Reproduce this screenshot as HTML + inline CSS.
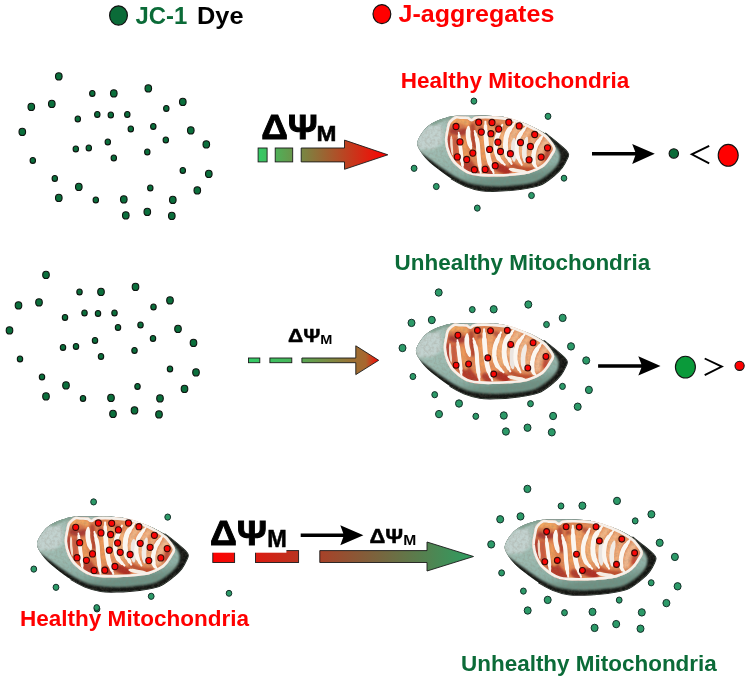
<!DOCTYPE html>
<html><head><meta charset="utf-8"><title>JC-1</title>
<style>
html,body{margin:0;padding:0;background:#fff;}
body{width:750px;height:683px;overflow:hidden;}
svg{display:block;}
text{font-family:"Liberation Sans",sans-serif;font-weight:bold;opacity:0.999;}
.dye ellipse{fill:#0b6f3c;stroke:#0d130f;stroke-width:1.1;}
.rd ellipse{fill:#fb0505;stroke:#3a0b07;stroke-width:1.1;}
.gd ellipse{fill:#2c9a68;stroke:#14302a;stroke-width:1;}
</style></head><body>
<svg width="750" height="683" viewBox="0 0 750 683">
<defs>
<filter id="b1" x="-5%" y="-10%" width="110%" height="120%"><feGaussianBlur stdDeviation="0.7"/></filter>
<filter id="b2" x="-5%" y="-10%" width="110%" height="120%"><feGaussianBlur stdDeviation="1.3"/></filter>
<filter id="b3" x="-50%" y="-50%" width="200%" height="200%"><feGaussianBlur stdDeviation="1.8"/></filter>
<filter id="b4" x="-20%" y="-20%" width="140%" height="140%"><feGaussianBlur stdDeviation="1.2"/></filter>
<filter id="b5" x="-20%" y="-20%" width="140%" height="140%"><feGaussianBlur stdDeviation="0.45"/></filter>
<filter id="nz" x="0" y="0" width="100%" height="100%"><feTurbulence type="fractalNoise" baseFrequency="0.38" numOctaves="2" seed="3" result="t"/><feColorMatrix type="matrix" values="0 0 0 0 0.25  0 0 0 0 0.2  0 0 0 0 0.15  0 0 0 1.6 -0.62"/></filter>
<linearGradient id="gb" x1="0" y1="0" x2="0.25" y2="1">
<stop offset="0" stop-color="#a9c2ba"/><stop offset="0.6" stop-color="#9dbbb1"/><stop offset="0.86" stop-color="#8cafa5"/><stop offset="1" stop-color="#6e9285"/></linearGradient>
<linearGradient id="go" x1="0" y1="0" x2="1" y2="0.3">
<stop offset="0" stop-color="#cf6a45"/><stop offset="0.35" stop-color="#e2824f"/><stop offset="0.7" stop-color="#e99560"/><stop offset="1" stop-color="#e08a5a"/></linearGradient>
<clipPath id="oc"><path d="M416.0,350.0C416.4,346.8 419.1,342.5 421.3,339.4C423.6,336.3 426.2,333.7 429.5,331.5C432.8,329.3 437.5,327.6 441.3,326.3C445.1,325.0 448.2,324.0 452.3,323.5C456.4,323.0 461.4,323.3 466.0,323.2C470.6,323.1 475.0,322.8 479.8,322.9C484.6,323.0 490.5,323.2 495.0,323.6C499.5,324.1 501.6,324.1 507.0,325.6C512.4,327.1 521.2,329.8 527.4,332.4C533.6,335.0 539.4,338.1 544.1,341.0C548.8,343.9 552.2,347.2 555.6,350.0C559.0,352.8 562.5,355.7 564.4,357.7C566.3,359.7 566.8,360.4 567.0,361.8C567.2,363.2 566.8,364.0 565.7,366.2C564.7,368.4 562.9,372.2 560.7,375.1C558.5,378.0 556.2,380.4 552.5,383.3C548.8,386.2 544.2,390.4 538.5,392.6C532.8,394.9 525.4,395.8 518.3,396.8C511.2,397.8 502.1,398.3 495.7,398.5C489.3,398.7 485.1,398.8 479.8,398.0C474.5,397.2 468.8,395.4 463.9,393.5C459.0,391.6 454.8,389.1 450.3,386.3C445.8,383.5 440.8,379.7 436.7,376.6C432.6,373.5 428.9,370.5 426.0,367.5C423.1,364.5 420.7,361.4 419.0,358.5C417.3,355.6 415.6,353.2 416.0,350.0Z"/></clipPath>
<clipPath id="ic"><path d="M453.7,323.8C451.6,324.7 448.9,327.1 447.5,329.0C446.1,330.9 446.0,332.3 445.4,335.5C444.8,338.7 443.4,343.9 443.6,348.3C443.9,352.7 445.0,357.8 446.9,361.9C448.8,366.0 450.9,369.8 454.9,373.2C458.9,376.6 463.9,380.8 470.7,382.6C477.5,384.4 487.0,384.2 495.7,384.1C504.4,384.0 516.5,382.9 522.9,382.0C529.3,381.1 531.4,379.7 534.3,378.6C537.2,377.5 538.5,376.7 540.4,375.5C542.3,374.3 543.9,373.1 545.6,371.2C547.3,369.3 549.2,366.5 550.6,364.0C552.0,361.5 554.5,358.9 554.2,356.0C553.9,353.1 550.4,349.0 548.6,346.6C546.8,344.2 546.3,343.6 543.5,341.6C540.7,339.6 535.8,336.6 531.9,334.6C528.0,332.6 523.6,330.8 520.0,329.4C516.4,328.0 513.8,326.9 510.0,326.0C506.2,325.1 501.3,324.5 497.0,324.1C492.7,323.7 488.1,323.5 484.3,323.5C480.5,323.5 476.3,323.6 474.0,324.1C471.7,324.6 471.5,326.4 470.3,326.4C469.1,326.4 468.7,324.7 467.0,324.3C465.3,323.9 462.2,324.0 460.0,323.9C457.8,323.8 455.8,322.9 453.7,323.8Z"/></clipPath>
<linearGradient id="ga1" gradientUnits="userSpaceOnUse" x1="258" y1="0" x2="388" y2="0">
<stop offset="0" stop-color="#33cc66"/><stop offset="1" stop-color="#ff0000"/></linearGradient>
<linearGradient id="ga2" gradientUnits="userSpaceOnUse" x1="248" y1="0" x2="379" y2="0">
<stop offset="0" stop-color="#33cc66"/><stop offset="0.3" stop-color="#45b85c"/><stop offset="0.8" stop-color="#9c7034"/><stop offset="0.9" stop-color="#a8662e"/><stop offset="1" stop-color="#ff0000"/></linearGradient>
<linearGradient id="ga3" gradientUnits="userSpaceOnUse" x1="212" y1="0" x2="474" y2="0">
<stop offset="0" stop-color="#ff0000"/><stop offset="1" stop-color="#2c9f62"/></linearGradient>
<g id="mito"><path d="M544.1,341.0C546.0,342.5 552.2,347.2 555.6,350.0C559.0,352.8 562.5,355.7 564.4,357.7C566.3,359.7 566.8,360.4 567.0,361.8C567.2,363.2 566.8,364.0 565.7,366.2C564.7,368.4 562.9,372.2 560.7,375.1C558.5,378.0 556.2,380.4 552.5,383.3C548.8,386.2 544.2,390.4 538.5,392.6C532.8,394.9 525.4,395.8 518.3,396.8C511.2,397.8 502.1,398.3 495.7,398.5C489.3,398.7 485.1,398.8 479.8,398.0C474.5,397.2 468.8,395.4 463.9,393.5C459.0,391.6 452.6,387.5 450.3,386.3" fill="none" stroke="#1a1c19" stroke-width="1.6" stroke-linecap="round" filter="url(#b1)"/><path d="M416.0,350.0C416.4,346.8 419.1,342.5 421.3,339.4C423.6,336.3 426.2,333.7 429.5,331.5C432.8,329.3 437.5,327.6 441.3,326.3C445.1,325.0 448.2,324.0 452.3,323.5C456.4,323.0 461.4,323.3 466.0,323.2C470.6,323.1 475.0,322.8 479.8,322.9C484.6,323.0 490.5,323.2 495.0,323.6C499.5,324.1 501.6,324.1 507.0,325.6C512.4,327.1 521.2,329.8 527.4,332.4C533.6,335.0 539.4,338.1 544.1,341.0C548.8,343.9 552.2,347.2 555.6,350.0C559.0,352.8 562.5,355.7 564.4,357.7C566.3,359.7 566.8,360.4 567.0,361.8C567.2,363.2 566.8,364.0 565.7,366.2C564.7,368.4 562.9,372.2 560.7,375.1C558.5,378.0 556.2,380.4 552.5,383.3C548.8,386.2 544.2,390.4 538.5,392.6C532.8,394.9 525.4,395.8 518.3,396.8C511.2,397.8 502.1,398.3 495.7,398.5C489.3,398.7 485.1,398.8 479.8,398.0C474.5,397.2 468.8,395.4 463.9,393.5C459.0,391.6 454.8,389.1 450.3,386.3C445.8,383.5 440.8,379.7 436.7,376.6C432.6,373.5 428.9,370.5 426.0,367.5C423.1,364.5 420.7,361.4 419.0,358.5C417.3,355.6 415.6,353.2 416.0,350.0Z" fill="#9dbdb0"/><g clip-path="url(#oc)"><rect x="400" y="310" width="180" height="100" fill="#141613"/><path d="M412.0,348.3C411.8,344.9 412.8,340.4 415.0,337.0C417.2,333.6 421.3,330.4 425.0,328.0C428.7,325.6 433.0,323.9 437.0,322.5C441.0,321.1 444.2,320.1 449.0,319.5C453.8,318.9 460.9,319.2 466.0,319.0C471.1,318.8 475.0,318.4 479.8,318.5C484.6,318.6 490.3,319.0 495.0,319.5C499.7,320.0 502.3,320.0 508.0,321.5C513.7,323.0 523.1,325.1 529.0,328.5C534.9,331.9 539.3,337.6 543.3,341.6C547.3,345.6 550.5,349.1 553.0,352.3C555.5,355.5 557.5,357.9 558.3,360.7C559.1,363.5 558.6,366.4 557.8,369.0C556.9,371.6 555.3,373.6 553.2,376.0C551.1,378.4 548.2,381.1 545.0,383.3C541.8,385.6 538.2,388.0 534.0,389.5C529.8,391.0 526.4,391.4 520.0,392.2C513.6,392.9 503.5,394.0 495.7,394.0C487.9,394.0 479.4,393.3 473.0,392.0C466.6,390.7 462.4,388.7 457.1,386.0C451.8,383.3 446.2,379.3 441.3,376.0C436.4,372.7 431.8,369.3 427.7,366.2C423.6,363.1 419.1,360.3 416.5,357.3C413.9,354.3 412.2,351.7 412.0,348.3Z" fill="url(#gb)" filter="url(#b2)"/><path d="M414.5,350.5L419.5,340.4L428.3,333.2L439.5,331.6L442.5,341.4L441,351.1L433,356.5L418.5,357.5Z" fill="#c2d2cf" filter="url(#b3)"/><path d="M430,331.5L441.3,326.6L452.3,324" fill="none" stroke="#7d9f8e" stroke-width="3" filter="url(#b4)"/></g><path d="M453.7,323.8C451.6,324.7 448.9,327.1 447.5,329.0C446.1,330.9 446.0,332.3 445.4,335.5C444.8,338.7 443.4,343.9 443.6,348.3C443.9,352.7 445.0,357.8 446.9,361.9C448.8,366.0 450.9,369.8 454.9,373.2C458.9,376.6 463.9,380.8 470.7,382.6C477.5,384.4 487.0,384.2 495.7,384.1C504.4,384.0 516.5,382.9 522.9,382.0C529.3,381.1 531.4,379.7 534.3,378.6C537.2,377.5 538.5,376.7 540.4,375.5C542.3,374.3 543.9,373.1 545.6,371.2C547.3,369.3 549.2,366.5 550.6,364.0C552.0,361.5 554.5,358.9 554.2,356.0C553.9,353.1 550.4,349.0 548.6,346.6C546.8,344.2 546.3,343.6 543.5,341.6C540.7,339.6 535.8,336.6 531.9,334.6C528.0,332.6 523.6,330.8 520.0,329.4C516.4,328.0 513.8,326.9 510.0,326.0C506.2,325.1 501.3,324.5 497.0,324.1C492.7,323.7 488.1,323.5 484.3,323.5C480.5,323.5 476.3,323.6 474.0,324.1C471.7,324.6 471.5,326.4 470.3,326.4C469.1,326.4 468.7,324.7 467.0,324.3C465.3,323.9 462.2,324.0 460.0,323.9C457.8,323.8 455.8,322.9 453.7,323.8Z" fill="#f4ede6"/><g clip-path="url(#ic)"><path d="M453.7,323.8C451.6,324.7 448.9,327.1 447.5,329.0C446.1,330.9 446.0,332.3 445.4,335.5C444.8,338.7 443.4,343.9 443.6,348.3C443.9,352.7 445.0,357.8 446.9,361.9C448.8,366.0 450.9,369.8 454.9,373.2C458.9,376.6 463.9,380.8 470.7,382.6C477.5,384.4 487.0,384.2 495.7,384.1C504.4,384.0 516.5,382.9 522.9,382.0C529.3,381.1 531.4,379.7 534.3,378.6C537.2,377.5 538.5,376.7 540.4,375.5C542.3,374.3 543.9,373.1 545.6,371.2C547.3,369.3 549.2,366.5 550.6,364.0C552.0,361.5 554.5,358.9 554.2,356.0C553.9,353.1 550.4,349.0 548.6,346.6C546.8,344.2 546.3,343.6 543.5,341.6C540.7,339.6 535.8,336.6 531.9,334.6C528.0,332.6 523.6,330.8 520.0,329.4C516.4,328.0 513.8,326.9 510.0,326.0C506.2,325.1 501.3,324.5 497.0,324.1C492.7,323.7 488.1,323.5 484.3,323.5C480.5,323.5 476.3,323.6 474.0,324.1C471.7,324.6 471.5,326.4 470.3,326.4C469.1,326.4 468.7,324.7 467.0,324.3C465.3,323.9 462.2,324.0 460.0,323.9C457.8,323.8 455.8,322.9 453.7,323.8Z" fill="url(#go)"/><g fill="none" stroke-linecap="round" filter="url(#b4)"><path d="M451.3,338.5C452.3,338.8 455.4,340.0 457.4,340.0C459.5,340.1 462.5,339.2 463.6,339.0" stroke="#a93a30" stroke-width="6.0"/><path d="M447.7,344.6C447.7,346.0 447.7,350.3 448.0,352.8C448.3,355.4 449.0,358.8 449.2,360.0" stroke="#b23c30" stroke-width="4.0"/><path d="M453.8,346.7C453.9,348.4 454.1,353.5 454.3,356.9C454.6,360.4 455.2,365.5 455.4,367.2" stroke="#cc5a3c" stroke-width="5.0"/><path d="M464.1,369.2C464.9,370.3 467.1,373.4 468.7,375.4C470.3,377.4 473.0,380.1 473.8,381.0" stroke="#b33a2a" stroke-width="11.0"/><path d="M471.3,333.4C471.4,335.1 471.6,340.2 472.0,343.6C472.3,347.0 473.1,352.2 473.3,353.9" stroke="#b6442f" stroke-width="5.0"/><path d="M479.5,336.4C479.6,337.6 480.1,342.4 480.2,343.6" stroke="#b84a32" stroke-width="5.0"/><path d="M485.1,376.4C485.8,377.1 488.5,379.8 489.2,380.5" stroke="#b23a2a" stroke-width="7.0"/><path d="M495.3,333.4C496.0,333.7 498.8,335.1 499.4,335.4" stroke="#c0563a" stroke-width="5.0"/><path d="M497.4,375.4C498.8,375.9 504.2,378.0 505.6,378.5" stroke="#b43c2a" stroke-width="8.0"/><path d="M500.0,375.4C501.0,375.9 505.1,378.0 506.1,378.5" stroke="#b02f22" stroke-width="8.0"/><path d="M510.2,372.3C512.0,373.0 517.1,375.7 520.5,376.4C523.9,377.2 529.0,376.8 530.7,376.9" stroke="#c0502f" stroke-width="5.0"/><path d="M546.6,359.0C546.4,360.2 545.4,365.0 545.1,366.2" stroke="#c24a35" stroke-width="5.0"/><path d="M535.9,347.7C535.5,348.4 534.2,351.1 533.8,351.8" stroke="#c85a3c" stroke-width="4.0"/><path d="M450.2,329.3C451.6,329.0 455.9,327.6 458.4,327.7C461.0,327.9 464.4,329.9 465.6,330.3" stroke="#f0a45e" stroke-width="6.0"/><path d="M462.0,348.7C462.4,350.5 463.5,355.9 464.1,359.0C464.7,362.1 465.4,365.8 465.6,367.2" stroke="#ee9a58" stroke-width="5.0"/><path d="M480.5,340.5C480.7,342.9 481.1,350.6 481.5,354.9C481.9,359.2 482.8,364.3 483.0,366.2" stroke="#ee9a5a" stroke-width="5.0"/><path d="M490.2,335.4C490.2,337.6 489.9,344.8 490.0,348.7C490.1,352.7 490.6,357.3 490.7,359.0" stroke="#f0a468" stroke-width="6.0"/><path d="M501.5,341.6C501.2,343.5 499.4,349.3 499.4,352.8C499.4,356.4 501.2,361.4 501.5,363.1" stroke="#f2ae74" stroke-width="6.0"/><path d="M517.9,333.4C516.8,335.1 512.7,340.0 511.3,343.6C509.8,347.2 509.6,353.0 509.2,354.9" stroke="#f3b888" stroke-width="5.0"/><path d="M527.7,338.5C526.6,340.2 522.4,345.0 521.0,348.7C519.6,352.5 519.7,359.0 519.5,361.0" stroke="#f2b484" stroke-width="5.0"/><path d="M533.8,343.6C533.0,345.5 529.7,351.1 528.7,354.9C527.7,358.7 527.8,364.3 527.7,366.2" stroke="#f0ac7a" stroke-width="5.0"/><path d="M545.1,348.7C544.1,350.5 540.2,355.6 538.9,359.0C537.7,362.4 537.7,367.5 537.4,369.2" stroke="#f1b88e" stroke-width="6.0"/></g></g><rect x="410" y="315" width="165" height="90" filter="url(#nz)" clip-path="url(#oc)" opacity="0.33"/><g clip-path="url(#ic)"><g fill="none" stroke-linecap="round" filter="url(#b5)"><path d="M450.0,343.6C450.1,345.2 450.0,349.8 450.2,352.8C450.5,355.9 451.1,360.5 451.3,362.1" stroke="#f1ddcc" stroke-width="1.0"/><path d="M450.0,343.6C450.1,345.2 450.0,349.8 450.2,352.8C450.5,355.9 451.1,360.5 451.3,362.1" stroke="#f1ddcc" stroke-width="1.7" pathLength="100" stroke-dasharray="84 100" stroke-dashoffset="-8"/><path d="M450.0,343.6C450.1,345.2 450.0,349.8 450.2,352.8C450.5,355.9 451.1,360.5 451.3,362.1" stroke="#f1ddcc" stroke-width="2.2" pathLength="100" stroke-dasharray="62 100" stroke-dashoffset="-19"/><path d="M457.4,340.0C457.7,342.3 458.4,349.5 459.0,353.9C459.5,358.2 460.1,362.6 460.5,366.2C460.9,369.8 461.4,373.9 461.5,375.4" stroke="#fbf6f0" stroke-width="1.7"/><path d="M457.4,340.0C457.7,342.3 458.4,349.5 459.0,353.9C459.5,358.2 460.1,362.6 460.5,366.2C460.9,369.8 461.4,373.9 461.5,375.4" stroke="#fbf6f0" stroke-width="2.8" pathLength="100" stroke-dasharray="84 100" stroke-dashoffset="-8"/><path d="M457.4,340.0C457.7,342.3 458.4,349.5 459.0,353.9C459.5,358.2 460.1,362.6 460.5,366.2C460.9,369.8 461.4,373.9 461.5,375.4" stroke="#fbf6f0" stroke-width="3.7" pathLength="100" stroke-dasharray="62 100" stroke-dashoffset="-19"/><path d="M467.2,334.4C467.1,336.1 466.4,341.1 466.9,344.6C467.3,348.2 469.2,354.0 469.7,355.9" stroke="#fbf6f0" stroke-width="2.1"/><path d="M467.2,334.4C467.1,336.1 466.4,341.1 466.9,344.6C467.3,348.2 469.2,354.0 469.7,355.9" stroke="#fbf6f0" stroke-width="3.5" pathLength="100" stroke-dasharray="84 100" stroke-dashoffset="-8"/><path d="M467.2,334.4C467.1,336.1 466.4,341.1 466.9,344.6C467.3,348.2 469.2,354.0 469.7,355.9" stroke="#fbf6f0" stroke-width="4.7" pathLength="100" stroke-dasharray="62 100" stroke-dashoffset="-19"/><path d="M473.3,338.5C473.8,340.5 475.7,346.5 476.4,350.8C477.1,355.1 476.9,359.2 477.4,364.1C477.9,369.1 479.1,377.8 479.5,380.5" stroke="#fbf6f0" stroke-width="1.9"/><path d="M473.3,338.5C473.8,340.5 475.7,346.5 476.4,350.8C477.1,355.1 476.9,359.2 477.4,364.1C477.9,369.1 479.1,377.8 479.5,380.5" stroke="#fbf6f0" stroke-width="3.1" pathLength="100" stroke-dasharray="84 100" stroke-dashoffset="-8"/><path d="M473.3,338.5C473.8,340.5 475.7,346.5 476.4,350.8C477.1,355.1 476.9,359.2 477.4,364.1C477.9,369.1 479.1,377.8 479.5,380.5" stroke="#fbf6f0" stroke-width="4.1" pathLength="100" stroke-dasharray="62 100" stroke-dashoffset="-19"/><path d="M484.1,329.3C484.2,331.7 484.2,338.7 484.6,343.6C484.9,348.6 485.5,354.7 486.1,359.0C486.7,363.3 487.1,365.7 488.2,369.2C489.2,372.8 491.6,378.6 492.3,380.5" stroke="#fbf6f0" stroke-width="2.1"/><path d="M484.1,329.3C484.2,331.7 484.2,338.7 484.6,343.6C484.9,348.6 485.5,354.7 486.1,359.0C486.7,363.3 487.1,365.7 488.2,369.2C489.2,372.8 491.6,378.6 492.3,380.5" stroke="#fbf6f0" stroke-width="3.5" pathLength="100" stroke-dasharray="84 100" stroke-dashoffset="-8"/><path d="M484.1,329.3C484.2,331.7 484.2,338.7 484.6,343.6C484.9,348.6 485.5,354.7 486.1,359.0C486.7,363.3 487.1,365.7 488.2,369.2C489.2,372.8 491.6,378.6 492.3,380.5" stroke="#fbf6f0" stroke-width="4.7" pathLength="100" stroke-dasharray="62 100" stroke-dashoffset="-19"/><path d="M501.0,332.3C500.0,334.6 496.5,341.7 495.3,345.7C494.2,349.6 494.1,352.7 494.3,355.9C494.6,359.2 495.3,362.4 496.9,365.1C498.4,367.9 502.4,371.1 503.5,372.3" stroke="#fbf6f0" stroke-width="2.0"/><path d="M501.0,332.3C500.0,334.6 496.5,341.7 495.3,345.7C494.2,349.6 494.1,352.7 494.3,355.9C494.6,359.2 495.3,362.4 496.9,365.1C498.4,367.9 502.4,371.1 503.5,372.3" stroke="#fbf6f0" stroke-width="3.3" pathLength="100" stroke-dasharray="84 100" stroke-dashoffset="-8"/><path d="M501.0,332.3C500.0,334.6 496.5,341.7 495.3,345.7C494.2,349.6 494.1,352.7 494.3,355.9C494.6,359.2 495.3,362.4 496.9,365.1C498.4,367.9 502.4,371.1 503.5,372.3" stroke="#fbf6f0" stroke-width="4.4" pathLength="100" stroke-dasharray="62 100" stroke-dashoffset="-19"/><path d="M513.3,330.3C512.1,332.0 507.7,337.0 506.1,340.5C504.6,344.1 504.2,348.2 504.1,351.8C504.0,355.4 504.6,358.8 505.6,362.1C506.7,365.3 509.5,369.8 510.2,371.3" stroke="#fbf6f0" stroke-width="2.2"/><path d="M513.3,330.3C512.1,332.0 507.7,337.0 506.1,340.5C504.6,344.1 504.2,348.2 504.1,351.8C504.0,355.4 504.6,358.8 505.6,362.1C506.7,365.3 509.5,369.8 510.2,371.3" stroke="#fbf6f0" stroke-width="3.7" pathLength="100" stroke-dasharray="84 100" stroke-dashoffset="-8"/><path d="M513.3,330.3C512.1,332.0 507.7,337.0 506.1,340.5C504.6,344.1 504.2,348.2 504.1,351.8C504.0,355.4 504.6,358.8 505.6,362.1C506.7,365.3 509.5,369.8 510.2,371.3" stroke="#fbf6f0" stroke-width="5.0" pathLength="100" stroke-dasharray="62 100" stroke-dashoffset="-19"/><path d="M512.8,346.7C512.7,348.7 512.1,355.4 512.1,359.0C512.1,362.6 512.7,366.7 512.8,368.2" stroke="#ebe5e0" stroke-width="2.2"/><path d="M512.8,346.7C512.7,348.7 512.1,355.4 512.1,359.0C512.1,362.6 512.7,366.7 512.8,368.2" stroke="#ebe5e0" stroke-width="3.7" pathLength="100" stroke-dasharray="84 100" stroke-dashoffset="-8"/><path d="M512.8,346.7C512.7,348.7 512.1,355.4 512.1,359.0C512.1,362.6 512.7,366.7 512.8,368.2" stroke="#ebe5e0" stroke-width="5.0" pathLength="100" stroke-dasharray="62 100" stroke-dashoffset="-19"/><path d="M524.6,334.4C523.4,336.1 519.0,341.1 517.4,344.6C515.9,348.2 515.5,352.7 515.4,355.9C515.2,359.2 515.5,361.4 516.4,364.1C517.3,366.9 519.8,371.0 520.5,372.3" stroke="#fbf6f0" stroke-width="1.9"/><path d="M524.6,334.4C523.4,336.1 519.0,341.1 517.4,344.6C515.9,348.2 515.5,352.7 515.4,355.9C515.2,359.2 515.5,361.4 516.4,364.1C517.3,366.9 519.8,371.0 520.5,372.3" stroke="#fbf6f0" stroke-width="3.1" pathLength="100" stroke-dasharray="84 100" stroke-dashoffset="-8"/><path d="M524.6,334.4C523.4,336.1 519.0,341.1 517.4,344.6C515.9,348.2 515.5,352.7 515.4,355.9C515.2,359.2 515.5,361.4 516.4,364.1C517.3,366.9 519.8,371.0 520.5,372.3" stroke="#fbf6f0" stroke-width="4.1" pathLength="100" stroke-dasharray="62 100" stroke-dashoffset="-19"/><path d="M525.6,345.2C525.2,347.1 523.4,352.9 523.1,356.9C522.7,361.0 523.5,367.2 523.6,369.2" stroke="#f1ebe6" stroke-width="2.1"/><path d="M525.6,345.2C525.2,347.1 523.4,352.9 523.1,356.9C522.7,361.0 523.5,367.2 523.6,369.2" stroke="#f1ebe6" stroke-width="3.5" pathLength="100" stroke-dasharray="84 100" stroke-dashoffset="-8"/><path d="M525.6,345.2C525.2,347.1 523.4,352.9 523.1,356.9C522.7,361.0 523.5,367.2 523.6,369.2" stroke="#f1ebe6" stroke-width="4.7" pathLength="100" stroke-dasharray="62 100" stroke-dashoffset="-19"/><path d="M541.0,343.6C540.0,345.2 536.3,349.8 534.8,352.8C533.4,355.9 532.6,359.0 532.3,362.1C531.9,365.1 532.2,369.1 532.8,371.3C533.4,373.5 535.4,374.7 535.9,375.4" stroke="#fbf6f0" stroke-width="2.0"/><path d="M541.0,343.6C540.0,345.2 536.3,349.8 534.8,352.8C533.4,355.9 532.6,359.0 532.3,362.1C531.9,365.1 532.2,369.1 532.8,371.3C533.4,373.5 535.4,374.7 535.9,375.4" stroke="#fbf6f0" stroke-width="3.3" pathLength="100" stroke-dasharray="84 100" stroke-dashoffset="-8"/><path d="M541.0,343.6C540.0,345.2 536.3,349.8 534.8,352.8C533.4,355.9 532.6,359.0 532.3,362.1C531.9,365.1 532.2,369.1 532.8,371.3C533.4,373.5 535.4,374.7 535.9,375.4" stroke="#fbf6f0" stroke-width="4.4" pathLength="100" stroke-dasharray="62 100" stroke-dashoffset="-19"/><path d="M508.2,376.6C509.7,376.9 514.5,378.0 517.4,378.5C520.3,379.0 524.3,379.5 525.6,379.7" stroke="#f6ece2" stroke-width="1.6"/><path d="M508.2,376.6C509.7,376.9 514.5,378.0 517.4,378.5C520.3,379.0 524.3,379.5 525.6,379.7" stroke="#f6ece2" stroke-width="2.7" pathLength="100" stroke-dasharray="84 100" stroke-dashoffset="-8"/><path d="M508.2,376.6C509.7,376.9 514.5,378.0 517.4,378.5C520.3,379.0 524.3,379.5 525.6,379.7" stroke="#f6ece2" stroke-width="3.6" pathLength="100" stroke-dasharray="62 100" stroke-dashoffset="-19"/></g><path d="M453.7,323.8C451.6,324.7 448.9,327.1 447.5,329.0C446.1,330.9 446.0,332.3 445.4,335.5C444.8,338.7 443.4,343.9 443.6,348.3C443.9,352.7 445.0,357.8 446.9,361.9C448.8,366.0 450.9,369.8 454.9,373.2C458.9,376.6 463.9,380.8 470.7,382.6C477.5,384.4 487.0,384.2 495.7,384.1C504.4,384.0 516.5,382.9 522.9,382.0C529.3,381.1 531.4,379.7 534.3,378.6C537.2,377.5 538.5,376.7 540.4,375.5C542.3,374.3 543.9,373.1 545.6,371.2C547.3,369.3 549.2,366.5 550.6,364.0C552.0,361.5 554.5,358.9 554.2,356.0C553.9,353.1 550.4,349.0 548.6,346.6C546.8,344.2 546.3,343.6 543.5,341.6C540.7,339.6 535.8,336.6 531.9,334.6C528.0,332.6 523.6,330.8 520.0,329.4C516.4,328.0 513.8,326.9 510.0,326.0C506.2,325.1 501.3,324.5 497.0,324.1C492.7,323.7 488.1,323.5 484.3,323.5C480.5,323.5 476.3,323.6 474.0,324.1C471.7,324.6 471.5,326.4 470.3,326.4C469.1,326.4 468.7,324.7 467.0,324.3C465.3,323.9 462.2,324.0 460.0,323.9C457.8,323.8 455.8,322.9 453.7,323.8Z" fill="none" stroke="#f6f0ea" stroke-width="5.2"/></g></g>
<g id="gA"><use href="#mito" transform="translate(1.3,-207.5)"/><g class="rd"><ellipse cx="456.0" cy="126.5" rx="3.0" ry="3.1"/><ellipse cx="478.7" cy="122.2" rx="3.0" ry="3.1"/><ellipse cx="492.0" cy="122.5" rx="3.0" ry="3.1"/><ellipse cx="508.8" cy="122.2" rx="3.0" ry="3.1"/><ellipse cx="519.2" cy="125.9" rx="3.0" ry="3.1"/><ellipse cx="481.3" cy="132.1" rx="3.0" ry="3.1"/><ellipse cx="490.9" cy="133.7" rx="3.0" ry="3.1"/><ellipse cx="498.7" cy="129.1" rx="3.0" ry="3.1"/><ellipse cx="534.7" cy="134.5" rx="3.0" ry="3.1"/><ellipse cx="460.0" cy="141.9" rx="3.0" ry="3.1"/><ellipse cx="497.9" cy="142.2" rx="3.0" ry="3.1"/><ellipse cx="520.5" cy="142.5" rx="3.0" ry="3.1"/><ellipse cx="530.4" cy="146.5" rx="3.0" ry="3.1"/><ellipse cx="547.5" cy="147.8" rx="3.0" ry="3.1"/><ellipse cx="489.6" cy="149.4" rx="3.0" ry="3.1"/><ellipse cx="500.5" cy="151.5" rx="3.0" ry="3.1"/><ellipse cx="510.4" cy="153.7" rx="3.0" ry="3.1"/><ellipse cx="472.8" cy="153.1" rx="3.0" ry="3.1"/><ellipse cx="457.3" cy="156.9" rx="3.0" ry="3.1"/><ellipse cx="466.7" cy="159.5" rx="3.0" ry="3.1"/><ellipse cx="529.1" cy="159.8" rx="3.0" ry="3.1"/><ellipse cx="541.1" cy="157.1" rx="3.0" ry="3.1"/><ellipse cx="495.2" cy="165.7" rx="3.0" ry="3.1"/><ellipse cx="474.4" cy="169.7" rx="3.0" ry="3.1"/><ellipse cx="485.1" cy="169.4" rx="3.0" ry="3.1"/></g><g class="gd"><ellipse cx="473.9" cy="101.1" rx="2.9" ry="3.1"/><ellipse cx="548.0" cy="116.3" rx="2.9" ry="3.1"/><ellipse cx="414.1" cy="168.3" rx="2.9" ry="3.1"/><ellipse cx="436.3" cy="186.5" rx="2.9" ry="3.1"/><ellipse cx="477.3" cy="208.1" rx="2.9" ry="3.1"/><ellipse cx="531.5" cy="195.5" rx="2.9" ry="3.1"/></g></g>
<g id="gB"><use href="#mito"/><g class="rd"><ellipse cx="457.9" cy="335.2" rx="2.9" ry="3.0"/><ellipse cx="477.4" cy="330.4" rx="2.9" ry="3.0"/><ellipse cx="490.5" cy="330.7" rx="2.9" ry="3.0"/><ellipse cx="507.3" cy="330.4" rx="2.9" ry="3.0"/><ellipse cx="510.7" cy="344.5" rx="2.9" ry="3.0"/><ellipse cx="533.1" cy="342.7" rx="2.9" ry="3.0"/><ellipse cx="545.9" cy="356.5" rx="2.9" ry="3.0"/><ellipse cx="487.8" cy="357.9" rx="2.9" ry="3.0"/><ellipse cx="468.6" cy="364.0" rx="2.9" ry="3.0"/><ellipse cx="456.1" cy="365.3" rx="2.9" ry="3.0"/><ellipse cx="493.7" cy="374.1" rx="2.9" ry="3.0"/><ellipse cx="527.8" cy="368.0" rx="2.9" ry="3.0"/></g><g class="gd"><ellipse cx="438.7" cy="292.5" rx="3.5" ry="3.7"/><ellipse cx="493.7" cy="309.3" rx="3.5" ry="3.7"/><ellipse cx="528.3" cy="304.5" rx="3.5" ry="3.7"/><ellipse cx="562.7" cy="317.9" rx="3.5" ry="3.7"/><ellipse cx="411.5" cy="322.9" rx="3.5" ry="3.7"/><ellipse cx="431.8" cy="320.0" rx="3.5" ry="3.7"/><ellipse cx="402.5" cy="348.0" rx="3.5" ry="3.7"/><ellipse cx="571.0" cy="346.4" rx="3.5" ry="3.7"/><ellipse cx="586.2" cy="360.5" rx="3.5" ry="3.7"/><ellipse cx="588.9" cy="389.9" rx="3.5" ry="3.7"/><ellipse cx="459.0" cy="403.5" rx="3.5" ry="3.7"/><ellipse cx="577.7" cy="406.7" rx="3.5" ry="3.7"/><ellipse cx="439.0" cy="414.1" rx="3.5" ry="3.7"/><ellipse cx="503.8" cy="415.5" rx="3.5" ry="3.7"/><ellipse cx="553.1" cy="416.0" rx="3.5" ry="3.7"/><ellipse cx="505.9" cy="431.5" rx="3.5" ry="3.7"/><ellipse cx="527.5" cy="427.7" rx="3.5" ry="3.7"/><ellipse cx="551.8" cy="432.3" rx="3.5" ry="3.7"/><ellipse cx="472.3" cy="309.6" rx="2.9" ry="3.1"/><ellipse cx="546.5" cy="324.5" rx="2.9" ry="3.1"/><ellipse cx="412.9" cy="376.5" rx="2.9" ry="3.1"/><ellipse cx="562.5" cy="386.4" rx="2.9" ry="3.1"/><ellipse cx="434.7" cy="394.7" rx="2.9" ry="3.1"/><ellipse cx="530.5" cy="403.7" rx="2.9" ry="3.1"/><ellipse cx="475.8" cy="416.3" rx="2.9" ry="3.1"/></g></g>
<g id="cl" class="dye"><ellipse cx="58.8" cy="76.4" rx="3.3" ry="3.6"/><ellipse cx="31.3" cy="106.9" rx="3.3" ry="3.6"/><ellipse cx="51.8" cy="103.9" rx="3.3" ry="3.6"/><ellipse cx="22.3" cy="131.9" rx="3.3" ry="3.6"/><ellipse cx="58.8" cy="197.9" rx="3.3" ry="3.6"/><ellipse cx="78.8" cy="186.9" rx="3.3" ry="3.6"/><ellipse cx="123.8" cy="199.4" rx="3.3" ry="3.6"/><ellipse cx="125.8" cy="215.4" rx="3.3" ry="3.6"/><ellipse cx="147.3" cy="211.9" rx="3.3" ry="3.6"/><ellipse cx="171.8" cy="215.9" rx="3.3" ry="3.6"/><ellipse cx="172.8" cy="199.9" rx="3.3" ry="3.6"/><ellipse cx="197.3" cy="190.4" rx="3.3" ry="3.6"/><ellipse cx="208.8" cy="173.9" rx="3.3" ry="3.6"/><ellipse cx="206.3" cy="144.4" rx="3.3" ry="3.6"/><ellipse cx="190.8" cy="130.4" rx="3.3" ry="3.6"/><ellipse cx="182.8" cy="101.9" rx="3.3" ry="3.6"/><ellipse cx="148.3" cy="88.4" rx="3.3" ry="3.6"/><ellipse cx="113.8" cy="93.4" rx="3.3" ry="3.6"/><ellipse cx="32.8" cy="160.4" rx="2.7" ry="2.95"/><ellipse cx="54.8" cy="178.4" rx="2.7" ry="2.95"/><ellipse cx="95.8" cy="199.9" rx="2.7" ry="2.95"/><ellipse cx="150.3" cy="187.9" rx="2.7" ry="2.95"/><ellipse cx="182.8" cy="170.4" rx="2.7" ry="2.95"/><ellipse cx="166.3" cy="108.4" rx="2.7" ry="2.95"/><ellipse cx="92.3" cy="93.4" rx="2.7" ry="2.95"/><ellipse cx="77.8" cy="118.9" rx="2.7" ry="2.95"/><ellipse cx="97.3" cy="114.4" rx="2.7" ry="2.95"/><ellipse cx="110.8" cy="114.9" rx="2.7" ry="2.95"/><ellipse cx="127.3" cy="114.4" rx="2.7" ry="2.95"/><ellipse cx="130.8" cy="128.9" rx="2.7" ry="2.95"/><ellipse cx="153.3" cy="126.4" rx="2.7" ry="2.95"/><ellipse cx="165.8" cy="139.9" rx="2.7" ry="2.95"/><ellipse cx="147.3" cy="151.9" rx="2.7" ry="2.95"/><ellipse cx="107.8" cy="141.9" rx="2.7" ry="2.95"/><ellipse cx="113.8" cy="157.9" rx="2.7" ry="2.95"/><ellipse cx="88.8" cy="147.9" rx="2.7" ry="2.95"/><ellipse cx="75.8" cy="148.9" rx="2.7" ry="2.95"/></g>
</defs>
<rect width="750" height="683" fill="#fff"/>

<!-- legend -->
<ellipse cx="118.5" cy="15.5" rx="8.9" ry="9.7" fill="#0b6b38" stroke="#111" stroke-width="1.2"/>
<text x="135.5" y="23.5" font-size="24" fill="#0b6b38" textLength="51.8" lengthAdjust="spacingAndGlyphs">JC-1</text>
<text x="197" y="23.5" font-size="24" fill="#000" textLength="46.5" lengthAdjust="spacingAndGlyphs">Dye</text>
<ellipse cx="381.9" cy="14.1" rx="8.9" ry="9.5" fill="#ff0000" stroke="#111" stroke-width="1.2"/>
<text x="398.5" y="22" font-size="24" fill="#f00" textLength="155.8" lengthAdjust="spacingAndGlyphs">J-aggregates</text>

<!-- headings -->
<text x="400.8" y="87.7" font-size="22" fill="#f00" textLength="228.5" lengthAdjust="spacingAndGlyphs">Healthy Mitochondria</text>
<text x="394.5" y="269.8" font-size="22.5" fill="#0b6b38" textLength="255.8" lengthAdjust="spacingAndGlyphs">Unhealthy Mitochondria</text>
<text x="461" y="670.9" font-size="22.5" fill="#0b6b38" textLength="255.8" lengthAdjust="spacingAndGlyphs">Unhealthy Mitochondria</text>

<!-- dye clusters -->
<use href="#cl"/>
<use href="#cl" transform="translate(-12.8,198.5)"/>

<!-- arrow 1 -->
<g fill="url(#ga1)" stroke="#1a1a1a" stroke-width="0.9" stroke-linejoin="miter">
<rect x="258.1" y="148" width="9" height="13.9"/>
<rect x="275.2" y="148" width="17.5" height="13.9"/>
<path d="M301.2,148H344.5V140.1L387.8,154.8L344.5,169.3V161.9H301.2Z"/>
</g>
<text transform="translate(261.2,138.7) scale(1.06,1)" font-size="35" fill="#000" stroke="#000" stroke-width="0.9">ΔΨ</text>
<text transform="translate(316.6,141.2) scale(1.08,1)" font-size="22.2" fill="#000" stroke="#000" stroke-width="0.5">M</text>

<!-- arrow 2 -->
<g fill="url(#ga2)" stroke="#1a1a1a" stroke-width="0.9">
<rect x="248.5" y="358" width="11.3" height="4.7"/>
<rect x="269.9" y="358" width="21.9" height="4.7"/>
<path d="M301.9,358H355.8V345.8L378.7,360.3L355.8,374.6V362.7H301.9Z"/>
</g>
<text transform="translate(288,342.2) scale(1.1,1)" font-size="19.2" fill="#000" stroke="#000" stroke-width="0.5">ΔΨ</text>
<text transform="translate(320.2,344) scale(1.1,1)" font-size="13.2" fill="#000">M</text>

<!-- arrow 3 -->
<g fill="url(#ga3)" stroke="#1a1a1a" stroke-width="0.9">
<rect x="212.8" y="550.6" width="21.8" height="11.9"/>
<rect x="255.5" y="550.6" width="43.1" height="11.9"/>
<path d="M319.8,550.6H427V542L473.5,556.5L427,571V562.5H319.8Z"/>
</g>
<rect x="205" y="515" width="81.4" height="37.7" fill="#fff"/>
<text transform="translate(209.9,544.9) scale(1.06,1)" font-size="35.3" fill="#000" stroke="#000" stroke-width="0.9">ΔΨ</text>
<text transform="translate(267.3,547.4) scale(1.02,1)" font-size="23" fill="#000" stroke="#000" stroke-width="0.5">M</text>
<text transform="translate(369.4,542.5) scale(1.07,1)" font-size="20.6" fill="#000" stroke="#000" stroke-width="0.5">ΔΨ</text>
<text transform="translate(403.3,545) scale(1.03,1)" font-size="15.2" fill="#000">M</text>

<!-- black arrows -->
<g fill="#000" stroke="none">
<path d="M592,152H635.3L632.2,144L654.8,153.7L632.2,163.9L635.3,155.5H592Z"/>
<path d="M598.1,364.3H641.4L638.3,356.3L660.5,366L638.3,375.6L641.4,367.8H598.1Z"/>
<path d="M300.7,533.5H343.3L340.3,525.2L363.4,535.2L340.3,545.2L343.3,537H300.7Z"/>
</g>

<!-- comparison -->
<circle cx="673.8" cy="153.5" r="4.7" fill="#0b6b38" stroke="#111" stroke-width="1.1"/>
<path d="M709.2,145.8L691.8,154.3L709.2,163.3" fill="none" stroke="#000" stroke-width="1.9"/>
<ellipse cx="728.2" cy="155.3" rx="10" ry="10.9" fill="#ff0000" stroke="#111" stroke-width="1.1"/>
<ellipse cx="685.4" cy="367.1" rx="10" ry="10.9" fill="#0a9a3a" stroke="#111" stroke-width="1.1"/>
<path d="M704.7,358.5L721.8,366.6L704.7,375.1" fill="none" stroke="#000" stroke-width="1.9"/>
<circle cx="739.6" cy="365.8" r="4.6" fill="#ff0000" stroke="#111" stroke-width="1.1"/>

<!-- mitochondria groups -->
<use href="#gA"/>
<g class="gd"><ellipse cx="564" cy="178.2" rx="2.8" ry="3"/></g>
<use href="#gB"/>
<use href="#gA" transform="translate(-380.3,400.8)"/>
<g class="gd"><ellipse cx="229" cy="593.3" rx="2.8" ry="3"/></g>
<use href="#gB" transform="translate(88.7,196.4)"/>

<text x="20" y="625.6" font-size="22" fill="#f00" textLength="229" lengthAdjust="spacingAndGlyphs">Healthy Mitochondria</text>
<g class="gd"><ellipse cx="96.7" cy="607.6" rx="2.8" ry="3"/></g>
</svg>
</body></html>
